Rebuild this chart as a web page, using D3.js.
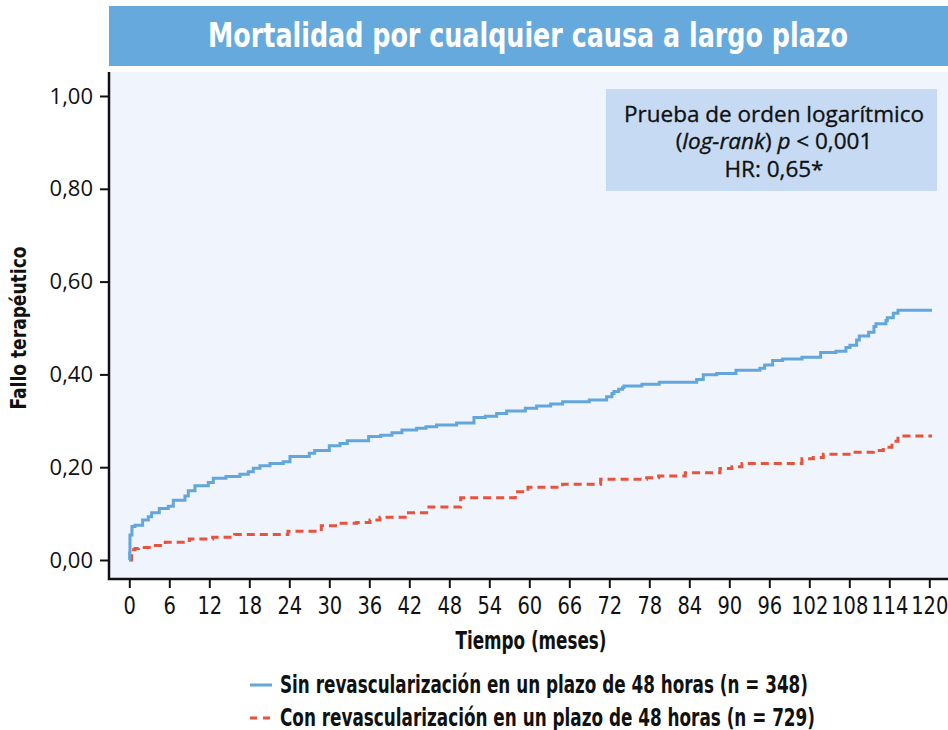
<!DOCTYPE html>
<html>
<head>
<meta charset="utf-8">
<script src="https://cdn.jsdelivr.net/npm/d3@7"></script>
<style>
  body { margin: 0; background: #fff; }
  .narrow { font-family: "Liberation Sans Narrow", "DejaVu Sans Condensed", sans-serif; }
  .wide { font-family: "Open Sans", "Noto Sans", sans-serif; }
</style>
</head>
<body>
<script>
// escalones de las curvas de Kaplan-Meier (meses, fallo acumulado)
const sinMeses = [0, 0.05, 0.1, 0.4, 0.85, 2, 2.85, 3.35, 4.5, 5.85, 6.6, 8.35, 8.85, 9.85, 11.85, 12.6, 14.5, 16.6, 17.85, 18.6, 19.6, 21.1, 23.1, 24.1, 27, 27.8, 30, 31.6, 32.7, 35.9, 37.7, 39.4, 40.9, 43.1, 44.5, 46.1, 49.1, 51.7, 53.4, 55.1, 56.6, 59.4, 61.1, 63.2, 65, 69, 71.6, 72.4, 72.7, 73.4, 74, 74.2, 76.9, 79.5, 85.1, 86.1, 88.1, 91, 94.6, 95.3, 96.5, 98, 100.9, 103.7, 106, 107.5, 108.1, 109.1, 109.5, 110.9, 111.7, 112, 113.5, 113.7, 114.6, 115.3, 120.4];
const sinFallo = [0, 0.015, 0.054, 0.072, 0.075, 0.086, 0.093, 0.102, 0.111, 0.116, 0.129, 0.138, 0.149, 0.160, 0.167, 0.176, 0.180, 0.185, 0.190, 0.198, 0.203, 0.208, 0.212, 0.223, 0.230, 0.236, 0.246, 0.251, 0.257, 0.266, 0.269, 0.274, 0.280, 0.284, 0.287, 0.291, 0.295, 0.307, 0.310, 0.316, 0.321, 0.327, 0.332, 0.336, 0.341, 0.345, 0.352, 0.359, 0.363, 0.368, 0.372, 0.375, 0.379, 0.383, 0.389, 0.399, 0.402, 0.409, 0.413, 0.420, 0.430, 0.433, 0.437, 0.447, 0.450, 0.458, 0.463, 0.474, 0.483, 0.491, 0.503, 0.509, 0.516, 0.522, 0.532, 0.538, 0.538];

const conMeses = [0, 0.35, 0.85, 1.4, 3.5, 5.4, 9, 12.5, 15.8, 23.8, 28.8, 31.3, 34.1, 36.1, 37.6, 41.6, 44.6, 49.7, 57.9, 59.8, 65, 70.7, 77.6, 79.4, 83.4, 88.6, 90.4, 91.9, 100.9, 102.6, 104.1, 108.6, 111.6, 113.1, 114.4, 115.3, 120.4];
const conFallo = [0, 0.022, 0.025, 0.027, 0.031, 0.038, 0.045, 0.049, 0.055, 0.062, 0.074, 0.079, 0.081, 0.086, 0.092, 0.102, 0.114, 0.134, 0.147, 0.157, 0.163, 0.174, 0.177, 0.181, 0.188, 0.197, 0.201, 0.208, 0.218, 0.221, 0.228, 0.232, 0.236, 0.243, 0.256, 0.267, 0.267];

const mesesTicks = d3.range(0, 121, 6);
const falloTicks = [0, 0.2, 0.4, 0.6, 0.8, 1.0];
const titulo = 'Mortalidad por cualquier causa a largo plazo';
const leyenda = [
  'Sin revascularización en un plazo de 48 horas (n = 348)',
  'Con revascularización en un plazo de 48 horas (n = 729)'
];

const azul = '#62a6dc', rojo = '#e9523d';

const svg = d3.select('body').append('svg')
  .attr('width', 948).attr('height', 730);

// barra del título
svg.append('rect').attr('x', 109).attr('y', 6).attr('width', 839).attr('height', 60)
  .attr('fill', '#66a9dc');
svg.append('text').attr('class', 'narrow')
  .attr('x', 528).attr('y', 47).attr('text-anchor', 'middle')
  .attr('font-size', 33).attr('font-weight', 'bold').attr('fill', '#fff')
  .attr('textLength', 640).attr('lengthAdjust', 'spacingAndGlyphs')
  .text(titulo);

// fondo del gráfico
svg.append('rect').attr('x', 110).attr('y', 72).attr('width', 838).attr('height', 507)
  .attr('fill', '#f0f4fc');

const x = d3.scaleLinear().domain([0, 120]).range([129.3, 929.3]);
const y = d3.scaleLinear().domain([0, 1]).range([560, 96]);

const fmt = d => d3.format('.2f')(d).replace('.', ',');

const ejeY = svg.append('g').attr('transform', 'translate(109,0)')
  .call(d3.axisLeft(y).tickValues(falloTicks).tickSize(9).tickPadding(7).tickFormat(fmt));
ejeY.select('.domain').remove();
ejeY.selectAll('line').attr('stroke', '#111').attr('stroke-width', 2);
ejeY.selectAll('text').attr('font-size', 22).attr('fill', '#111')
  .attr('font-family', '"Open Sans", sans-serif');

const ejeX = svg.append('g').attr('transform', 'translate(0,579)')
  .call(d3.axisBottom(x).tickValues(mesesTicks).tickSize(9).tickPadding(8));
ejeX.select('.domain').remove();
ejeX.selectAll('line').attr('stroke', '#111').attr('stroke-width', 2);
ejeX.selectAll('text').attr('font-size', 25).attr('fill', '#111')
  .attr('font-family', '"Liberation Sans Narrow", "DejaVu Sans Condensed", sans-serif')
  .attr('textLength', d => String(d).length * 12.4).attr('lengthAdjust', 'spacingAndGlyphs');

// marco (ejes)
svg.append('path').attr('d', 'M109,72V579H948')
  .attr('fill', 'none').attr('stroke', '#111').attr('stroke-width', 2.5);

// curvas
const linea = d3.line().x(d => x(d[0])).y(d => y(d[1])).curve(d3.curveStepAfter);
svg.append('path').datum(d3.zip(conMeses, conFallo))
  .attr('d', linea).attr('fill', 'none').attr('stroke', rojo)
  .attr('stroke-width', 3).attr('stroke-dasharray', '8,5');
svg.append('path').datum(d3.zip(sinMeses, sinFallo))
  .attr('d', linea).attr('fill', 'none').attr('stroke', azul)
  .attr('stroke-width', 3);

// recuadro log-rank
svg.append('rect').attr('x', 606).attr('y', 89).attr('width', 331).attr('height', 102)
  .attr('fill', '#c6dbf3');
const caja = svg.append('text').attr('class', 'wide')
  .attr('text-anchor', 'middle').attr('font-size', 22.5).attr('fill', '#111')
  .attr('stroke', '#111').attr('stroke-width', 0.35);
caja.append('tspan').attr('x', 774).attr('y', 122).text('Prueba de orden logarítmico');
const l2 = caja.append('tspan').attr('x', 774).attr('y', 149);
l2.append('tspan').text('(');
l2.append('tspan').attr('font-style', 'italic').text('log-rank');
l2.append('tspan').text(') ');
l2.append('tspan').attr('font-style', 'italic').text('p');
l2.append('tspan').text(' < 0,001');
caja.append('tspan').attr('x', 774).attr('y', 177).text('HR: 0,65*');

// títulos de ejes
svg.append('text').attr('class', 'narrow')
  .attr('transform', 'translate(26,328) rotate(-90)')
  .attr('text-anchor', 'middle').attr('font-size', 21).attr('font-weight', 'bold').attr('fill', '#111')
  .attr('textLength', 163).attr('lengthAdjust', 'spacingAndGlyphs')
  .text('Fallo terapéutico');
svg.append('text').attr('class', 'narrow')
  .attr('x', 531).attr('y', 649).attr('text-anchor', 'middle')
  .attr('font-size', 24).attr('font-weight', 'bold').attr('fill', '#111')
  .attr('textLength', 151).attr('lengthAdjust', 'spacingAndGlyphs')
  .text('Tiempo (meses)');

// leyenda
const largos = [528, 535];
const filas = svg.selectAll('.fila').data(leyenda).enter().append('g')
  .attr('transform', (d, i) => `translate(0,${685 + i * 33})`);
filas.append('line').attr('x1', 250).attr('x2', 272)
  .attr('stroke', (d, i) => i === 0 ? azul : rojo).attr('stroke-width', 3)
  .attr('stroke-dasharray', (d, i) => i === 0 ? null : '7,6');
filas.append('text').attr('class', 'narrow')
  .attr('x', 280).attr('y', 8).attr('font-size', 24).attr('font-weight', 'bold').attr('fill', '#111')
  .attr('textLength', (d, i) => largos[i]).attr('lengthAdjust', 'spacingAndGlyphs')
  .text(d => d);
</script>
</body>
</html>
